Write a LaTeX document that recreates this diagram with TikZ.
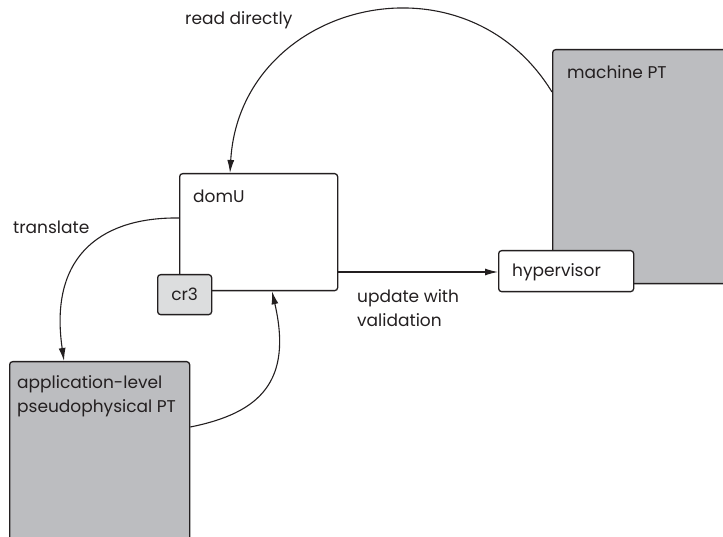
\documentclass[tikz,border=0pt]{standalone}
\usepackage{fontspec}
\setmainfont{Poppins}
\usetikzlibrary{arrows.meta}
\definecolor{ink}{HTML}{231F20}
\definecolor{darkfill}{HTML}{BCBDC0}
\definecolor{lightfill}{HTML}{DCDDDE}
\tikzset{
  box/.style={draw=ink, line width=1.3pt, rounded corners=3pt, inner sep=0pt, anchor=north west},
  txt/.style={inner sep=0pt, anchor=base west, text=ink, font=\fontsize{17}{20}\selectfont},
  conn/.style={draw=ink, line width=1.1pt, -{Latex[length=13pt,width=7pt]}},
}
\begin{document}
\begin{tikzpicture}[x=1pt,y=1pt]
\useasboundingbox (0,0) rectangle (723,536);
\clip (0,0) rectangle (723,536);
% boxes
\node[box, fill=darkfill, minimum width=190pt, minimum height=234pt] (mach) at (552,487) {};
\node[box, fill=white, minimum width=135pt, minimum height=41pt] (hyp) at (498,286) {};
\node[box, fill=white, minimum width=158pt, minimum height=117pt] (domU) at (179,363) {};
\node[box, fill=lightfill, minimum width=54pt, minimum height=40pt] (cr3) at (157,262) {};
\node[box, fill=darkfill, minimum width=180pt, minimum height=190pt] (app) at (9,175) {};
% texts
\node[txt] at ([shift={(14,-30)}]domU.north west) {domU};
\node[txt] at ([shift={(15,-30)}]mach.north west) {machine PT};
\node[txt] at ([shift={(14,-27)}]hyp.north west) {hypervisor};
\node[inner sep=0pt, text=ink, font=\fontsize{17}{20}\selectfont] at (cr3.center) {cr3};
\node[txt] at ([shift={(8,-28)}]app.north west) {application-level};
\node[txt] at ([shift={(8,-51)}]app.north west) {pseudophysical PT};
% connectors
\draw[conn] ([yshift=-43]mach.north west) .. controls +(-89,145.3) and +(9.8,170.1) .. ([xshift=51]domU.north west);
\node[txt] at (185,511) {read directly};
\node[txt] at (13,302) {translate};
\draw[conn] ([yshift=-45]domU.north west) .. controls +(-72,1) and +(-16,110) .. ([xshift=55]app.north west);
\draw[conn] ([yshift=-66]app.north east) .. controls +(70,14) and +(20.7,-90) .. ([xshift=93]domU.south west);
\draw[conn] ([yshift=-99]domU.north east) -- ([yshift=-99]domU.north east -| hyp.west);
\node[txt] at (357,233) {update with};
\node[txt] at (357,209) {validation};
\end{tikzpicture}
\end{document}
